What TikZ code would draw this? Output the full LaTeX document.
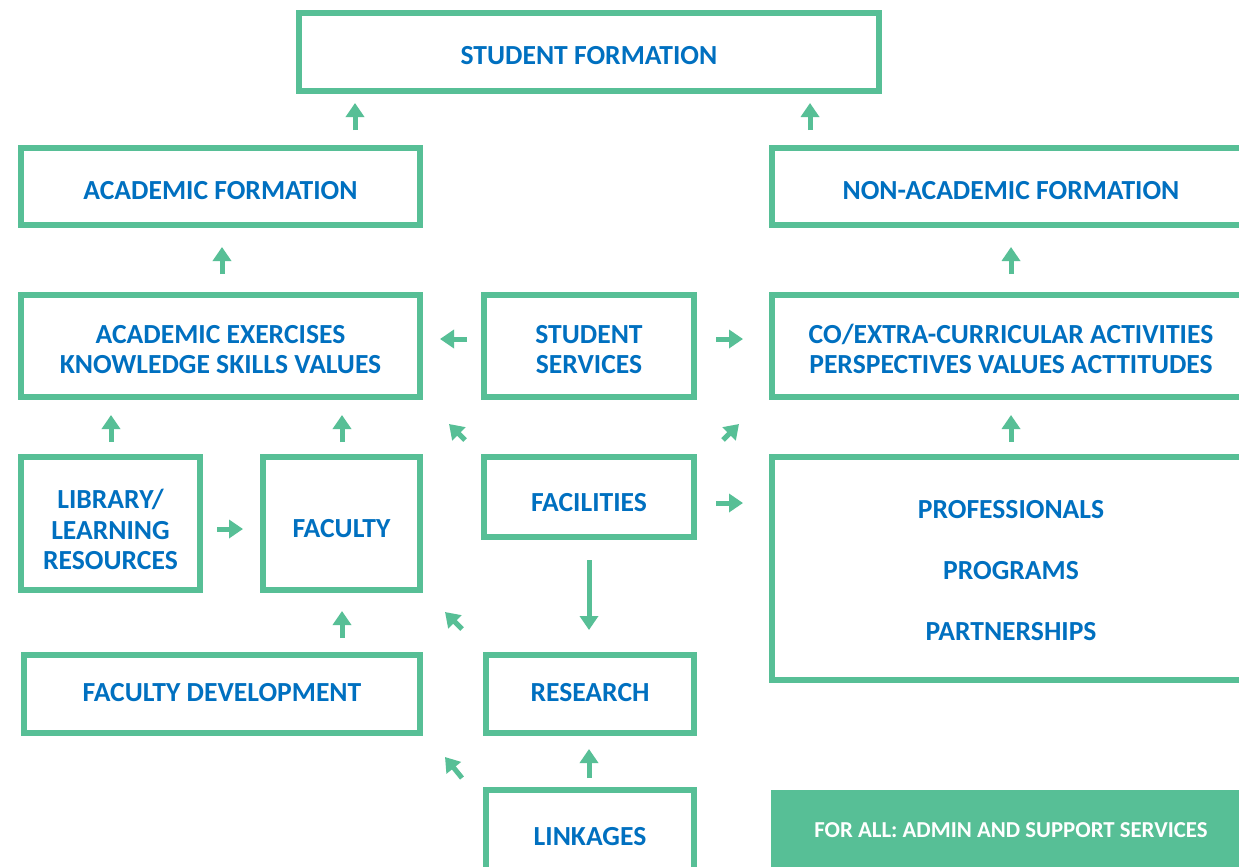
\documentclass[tikz,border=0pt]{standalone}
\usepackage{fontspec}
\setmainfont{Carlito}
\usetikzlibrary{arrows.meta,calc}
\definecolor{grn}{HTML}{57BF96}
\definecolor{blu}{HTML}{0070C0}
\tikzset{
  box/.style={draw=grn, line width=6pt, inner sep=0pt, align=center, text=blu,
    font=\bfseries\fontsize{27.6}{30.5}\selectfont},
  th/.style={text height=#1},
  arr/.style={draw=grn, line width=5pt,
    -{Triangle[width=18pt,length=14pt]}},
}
\begin{document}
\begin{tikzpicture}[x=1pt,y=-1pt]
\path[use as bounding box, clip] (0,0) rectangle (1239,867);
\fill[white] (0,0) rectangle (1239,867);
% nodes
\node[box, th=26pt, minimum width=580pt, minimum height=78pt] (sf) at (589,52) {STUDENT FORMATION};
\node[box, th=26pt, minimum width=399pt, minimum height=77pt] (af) at (220.5,186.5) {ACADEMIC FORMATION};
\node[box, th=26pt, minimum width=478pt, minimum height=77pt] (naf) at (1011,186.5) {NON-ACADEMIC FORMATION};
\node[box, th=55.5pt, minimum width=399pt, minimum height=102pt] (ae) at (220.5,346) {ACADEMIC EXERCISES\\KNOWLEDGE SKILLS VALUES};
\node[box, th=55.5pt, minimum width=210pt, minimum height=102pt] (ss) at (589,346) {STUDENT\\SERVICES};
\node[box, th=55.5pt, minimum width=478pt, minimum height=102pt] (co) at (1011,346) {CO/EXTRA-CURRICULAR ACTIVITIES\\PERSPECTIVES VALUES ACTTITUDES};
\node[box, th=93pt, minimum width=179pt, minimum height=133pt] (lib) at (110.5,523.5) {LIBRARY/\\LEARNING\\RESOURCES};
\node[box, th=28pt, minimum width=157pt, minimum height=133pt] (fac) at (341.5,523.5) {FACULTY};
\node[box, th=30pt, minimum width=210pt, minimum height=80pt] (fcl) at (589,497) {FACILITIES};
\node[box, th=144pt, minimum width=478pt, minimum height=223pt] (ppp) at (1011,568.5) {PROFESSIONALS\\[30.5pt]PROGRAMS\\[30.5pt]PARTNERSHIPS};
\node[box, th=16pt, minimum width=396pt, minimum height=78pt] (fd) at (222,694) {FACULTY DEVELOPMENT};
\node[box, th=16pt, minimum width=208pt, minimum height=78pt] (res) at (590,694) {RESEARCH};
\node[box, th=28pt, minimum width=208pt, minimum height=84pt] (lnk) at (590,832) {LINKAGES};
\node[fill=grn, draw=none, inner sep=0pt, minimum width=480pt, minimum height=80pt,
  text=white, font=\bfseries\fontsize{22.8}{26}\selectfont] (fa) at (1011,830) {FOR ALL: ADMIN AND SUPPORT SERVICES};
% arrows
\draw[arr] ($(af.north)+(134.5,-15)$) -- ($(sf.south)+(-234,9)$);
\draw[arr] ($(naf.north)+(-201,-15)$) -- ($(sf.south)+(221,9)$);
\draw[arr] ($(ae.north)+(1.5,-18)$) -- ($(af.south)+(1.5,19)$);
\draw[arr] ($(co.north)+(0,-18)$) -- ($(naf.south)+(0,19)$);
\draw[arr] ($(ss.west)+(-14,-7)$) -- ($(ae.east)+(17,-7)$);
\draw[arr] ($(ss.east)+(19,-7)$) -- ($(co.west)+(-26,-7)$);
\draw[arr] ($(lib.north)+(0.5,-12)$) -- ($(ae.south)+(-109.5,15)$);
\draw[arr] ($(fac.north)+(0.5,-12)$) -- ($(ae.south)+(121.5,15)$);
\draw[arr] ($(fcl.north west)+(-16,-14)$) -- ($(ae.south east)+(26,24)$);
\draw[arr] ($(fcl.north east)+(26,-14)$) -- ($(co.south west)+(-30,24)$);
\draw[arr] ($(ppp.north)+(0,-12)$) -- ($(co.south)+(0,15)$);
\draw[arr] ($(lib.east)+(14,5.5)$) -- ($(fac.west)+(-17,5.5)$);
\draw[arr] ($(fcl.east)+(19,6)$) -- ($(ppp.west)+(-26,-65.5)$);
\draw[arr] ($(fcl.south)+(0,20)$) -- ($(res.north)+(-1,-22)$);
\draw[arr] ($(res.north west)+(-21,-23)$) -- ($(fac.south east)+(22,19)$);
\draw[arr] ($(fd.north)+(120,-14)$) -- ($(fac.south)+(0.5,18)$);
\draw[arr] ($(lnk.north west)+(-21,-9)$) -- ($(fd.south east)+(22,21)$);
\draw[arr] ($(lnk.north)+(-1,-9)$) -- ($(res.south)+(-1,13)$);
\end{tikzpicture}
\end{document}
